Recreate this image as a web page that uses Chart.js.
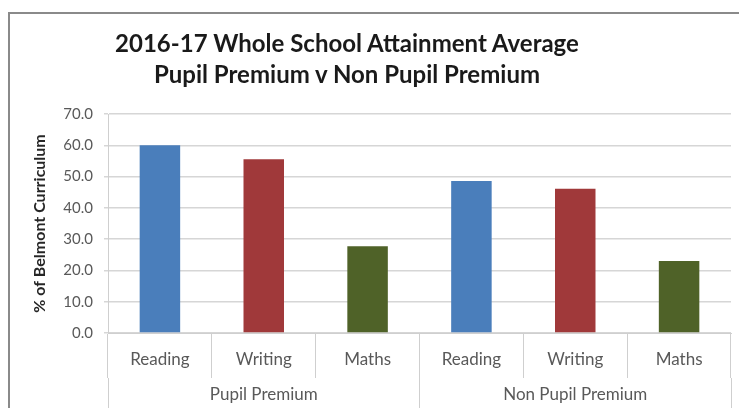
<!DOCTYPE html>
<html>
<head>
<meta charset="utf-8">
<script src="https://cdn.jsdelivr.net/npm/chart.js@4"></script>
<style>
  body { margin: 0; background: #fff; }
  #wrap { position: relative; width: 739px; height: 408px; overflow: hidden; }
  #frame { position: absolute; left: 8px; top: 12px; width: 760px; height: 420px;
           border-left: 2px solid #8a8a8a; border-top: 2px solid #8a8a8a; }
  #title { position: absolute; left: 77px; top: 27px; width: 540px; text-align: center;
           font: bold 24px Lato, "Open Sans", sans-serif; line-height: 31px; color: #1a1a1a; }
  canvas { position: absolute; left: 0; top: 0; }
</style>
</head>
<body>
<div id="wrap">
  <div id="frame"></div>
  <canvas id="attainChart" width="739" height="408"></canvas>
  <div id="title">2016-17 Whole School Attainment Average<br>Pupil Premium v Non Pupil Premium</div>
</div>
<script>
const subjects = ["Reading", "Writing", "Maths"];
const groups = ["Pupil Premium", "Non Pupil Premium"];
const pupilPremium = [60.0, 55.5, 27.7];
const nonPupilPremium = [48.6, 46.1, 23.0];
const subjectColors = ["#4A7EBB", "#A0393A", "#4F6228"];

const labels = subjects.concat(subjects);
const values = pupilPremium.concat(nonPupilPremium);
const colors = subjectColors.concat(subjectColors);

const lineGrey = "#cfcfcf";
const textGrey = "#595959";

const ctx = document.getElementById("attainChart").getContext("2d");
new Chart(ctx, {
    type: "bar",
    data: {
        labels: labels,
        datasets: [{
            data: values,
            backgroundColor: colors,
            barPercentage: 0.39,
            categoryPercentage: 1
        }]
    },
    options: {
        responsive: false,
        animation: false,
        layout: { padding: { left: 20, top: 114, right: 8, bottom: 0 } },
        plugins: {
            legend: { display: false },
            tooltip: { enabled: false }
        },
        scales: {
            y: {
                min: 0,
                max: 70,
                ticks: {
                    stepSize: 10,
                    padding: 11,
                    color: textGrey,
                    font: { family: "Lato", size: 15 },
                    callback: v => v.toFixed(1)
                },
                grid: { color: "#d6d6d6", lineWidth: 1.5, tickLength: 4 },
                border: { color: lineGrey },
                title: {
                    display: true,
                    text: "% of Belmont Curriculum",
                    color: "#262626",
                    font: { family: "Lato", size: 16, weight: "bold" },
                    padding: { top: 10, bottom: 0 }
                },
                afterFit: s => { s.width = 88; }
            },
            x: {
                offset: true,
                ticks: {
                    padding: -29,
                    color: textGrey,
                    font: { family: "Lato", size: 17 }
                },
                grid: { offset: true, drawOnChartArea: false, tickLength: 45, color: lineGrey },
                border: { color: lineGrey },
                afterFit: s => { s.height = 45; }
            },
            x2: {
                type: "category",
                position: "bottom",
                labels: groups,
                offset: true,
                ticks: {
                    padding: -54,
                    color: textGrey,
                    font: { family: "Lato", size: 17 }
                },
                grid: { offset: true, drawOnChartArea: false, tickLength: 60, color: lineGrey },
                border: { display: false },
                afterFit: s => { s.height = 30; }
            }
        }
    }
});
</script>
</body>
</html>
